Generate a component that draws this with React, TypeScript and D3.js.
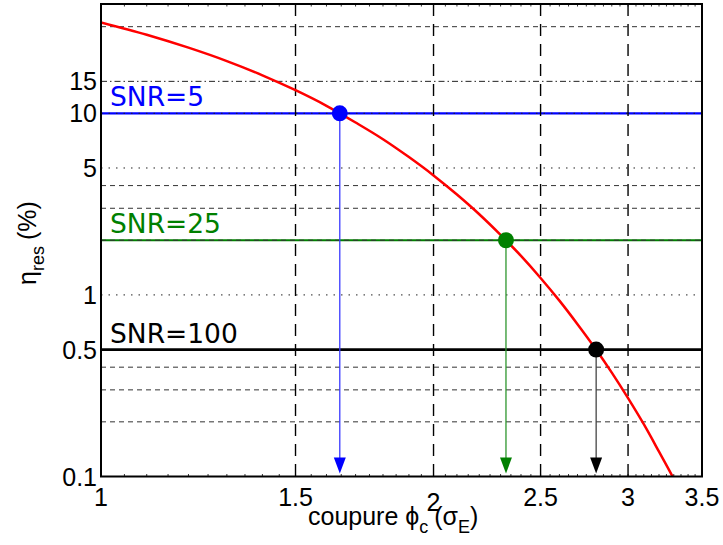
import React from "react";
import * as d3 from "d3";

// Curve: cutoff phi_c (sigma_E) vs eta_res (%)
const phiValues = [1.0, 1.1, 1.2, 1.3, 1.4, 1.5, 1.6, 1.7, 1.8, 1.9, 2.0, 2.1, 2.2, 2.3, 2.4, 2.5, 2.6, 2.7, 2.8, 2.9, 3.0, 3.1, 3.2, 3.3, 3.4];
const etaValues = [31.7, 27.1, 23.0, 19.4, 16.2, 13.4, 11.0, 8.9, 7.2, 5.74, 4.55, 3.57, 2.78, 2.14, 1.64, 1.24, 0.93, 0.69, 0.51, 0.373, 0.27, 0.194, 0.137, 0.097, 0.067];

// Operating points
const snrLabels = ["SNR=5", "SNR=25", "SNR=100"];
const snrLevels = [10, 2, 0.5];
const snrCutoffs = [1.645, 2.326, 2.807];
const snrColors = ["#0000ff", "#008000", "#000000"];
const arrowColors = ["#3a3aff", "#2e962e", "#444444"];
const snrLineWidths = [2.4, 2, 2.8];

// Axes
const xTicks = [1, 1.5, 2, 2.5, 3, 3.5];
const yTicks = [0.1, 0.5, 1, 5, 10, 15];
const xGrid = [1.5, 2, 2.5, 3];
const yDashed = [0.2, 0.3, 0.4, 2, 3, 4, 30];
const yDotted = [1, 5, 10];
const yDashDot = [15];

const W = 723;
const H = 545;
const L = 101, R = 702, T = 4, B = 476.5;

export default function App() {
  const x = d3.scaleLog().domain([1, 3.5]).range([L, R]);
  const y = d3.scaleLog().domain([0.1, 40]).range([B, T]);
  const line = d3
    .line<number>()
    .x((_, i) => x(phiValues[i]))
    .y((d) => y(d))
    .curve(d3.curveMonotoneX);

  const minorX: number[] = [];
  for (let v = 1.05; v < 3.5; v += 0.05) minorX.push(+v.toFixed(2));

  const tickFont = "'Liberation Sans', Arial, Helvetica, sans-serif";

  return (
    <div style={{ position: "absolute", left: 0, top: 0 }}>
      <svg width={W} height={H} style={{ display: "block", background: "#fff" }}>
        <defs>
          <clipPath id="plot">
            <rect x={L} y={T} width={R - L} height={B - T} />
          </clipPath>
        </defs>
        <rect x={0} y={0} width={W} height={H} fill="#fff" />
        <g clipPath="url(#plot)">
          {/* SNR horizontal lines */}
          {snrLevels.map((v, i) => (
            <line key={"s" + i} x1={L} x2={R} y1={y(v)} y2={y(v)} stroke={snrColors[i]} strokeWidth={snrLineWidths[i]} />
          ))}
          {/* grid */}
          {xGrid.map((v) => (
            <line key={"gx" + v} x1={x(v)} x2={x(v)} y1={T} y2={B} stroke="#000" strokeWidth={1.4} strokeDasharray="12,8" />
          ))}
          {yDashed.map((v) => (
            <line key={"gd" + v} x1={L} x2={R} y1={y(v)} y2={y(v)} stroke="#333" strokeWidth={1} strokeDasharray="5,4" />
          ))}
          {yDotted.map((v) => (
            <line key={"gt" + v} x1={L} x2={R} y1={y(v)} y2={y(v)} stroke="#222" strokeWidth={1} strokeDasharray="1.5,6" />
          ))}
          {yDashDot.map((v) => (
            <line key={"gdd" + v} x1={L} x2={R} y1={y(v)} y2={y(v)} stroke="#222" strokeWidth={1} strokeDasharray="6,3,1.5,3" />
          ))}
          {/* minor ticks */}
          {minorX.map((v) => (
            <g key={"mx" + v}>
              <line x1={x(v)} x2={x(v)} y1={B} y2={B - 2.5} stroke="#000" strokeWidth={0.8} />
              <line x1={x(v)} x2={x(v)} y1={T} y2={T + 2.5} stroke="#000" strokeWidth={0.8} />
            </g>
          ))}
          {/* arrows */}
          {snrCutoffs.map((c, i) => {
            const cx = x(c);
            const tip = B - 3;
            return (
              <g key={"a" + i}>
                <line x1={cx} x2={cx} y1={y(snrLevels[i])} y2={tip - 14} stroke={arrowColors[i]} strokeWidth={1.3} />
                <path d={`M${cx - 6},${tip - 16} L${cx + 6},${tip - 16} L${cx},${tip} Z`} fill={snrColors[i]} />
              </g>
            );
          })}
          {/* curve */}
          <path d={line(etaValues) || ""} fill="none" stroke="#ff0000" strokeWidth={2.5} />
          {/* points */}
          {snrCutoffs.map((c, i) => (
            <circle key={"p" + i} cx={x(c)} cy={y(snrLevels[i])} r={8} fill={snrColors[i]} />
          ))}
        </g>
        {/* SNR labels */}
        {snrLabels.map((t, i) => (
          <text
            key={"l" + i}
            x={110}
            y={y(snrLevels[i]) - 7}
            fill={snrColors[i]}
            fontFamily="'DejaVu Sans', sans-serif"
            fontSize={26.5}
          >
            {t}
          </text>
        ))}
        {/* axes box */}
        <rect x={L} y={T} width={R - L} height={B - T} fill="none" stroke="#000" strokeWidth={2} />
        {/* y tick labels */}
        {yTicks.map((v) => (
          <text key={"yt" + v} x={L - 4} y={y(v)} dy="0.36em" textAnchor="end" fontFamily={tickFont} fontSize={25}>
            {String(v)}
          </text>
        ))}
        {/* x tick labels */}
        {xTicks.map((v) => (
          <text key={"xt" + v} x={x(v)} y={v === 2 ? 511 : 506} textAnchor="middle" fontFamily={tickFont} fontSize={25}>
            {String(v)}
          </text>
        ))}
        {/* x label */}
        <text x={308} y={525} fontFamily={tickFont} fontSize={25} xmlSpace="preserve">
          {"coupure \u03D5"}
          <tspan fontSize={18} dy={8}>c</tspan>
          <tspan dy={-8} dx={6}>(σ</tspan>
          <tspan fontSize={18} dy={8}>E</tspan>
          <tspan dy={-8}>)</tspan>
        </text>
        {/* y label */}
        <text transform="translate(36,243) rotate(-90)" textAnchor="middle" fontFamily={tickFont} fontSize={25}>
          η
          <tspan fontSize={18} dy={8}>res</tspan>
          <tspan dy={-8} dx={6}>(%)</tspan>
        </text>
      </svg>
    </div>
  );
}
